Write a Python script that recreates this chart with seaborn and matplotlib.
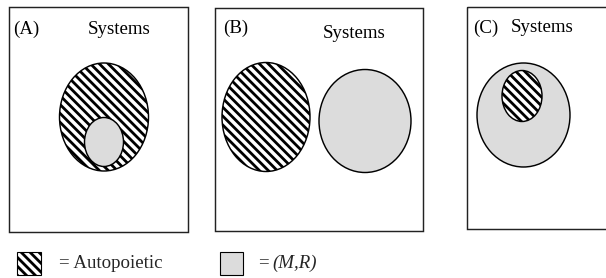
import matplotlib
matplotlib.use("Agg")
import matplotlib.pyplot as plt
import seaborn as sns
from matplotlib.patches import Ellipse, Rectangle

# ---- chart content ----
panel_labels = ["(A)", "(B)", "(C)"]
panel_title = "Systems"
legend_labels = ["= Autopoietic", "(M,R)"]
# sets drawn inside each panel: kind ('auto' = autopoietic hatched, 'mr' = (M,R) gray)
panel_sets = [["auto", "mr"], ["auto", "mr"], ["mr", "auto"]]

# ---- layout (pixel space of the 606x278 canvas) ----
boxes = [(9, 7, 188, 232), (215, 8, 423, 231), (467, 7, 640, 229)]
label_pos = [(13, 29), (223, 28), (473, 28)]
title_pos = [(88, 29), (323, 33), (511, 28)]
ellipses = [
    [(104, 117, 89, 108), (104, 142, 39, 49)],
    [(266, 117, 88, 109), (365, 121, 92, 103)],
    [(523.5, 115, 93, 104), (522, 96, 40, 51)],
]

GRAY = "#dcdcdc"
DPI = 80

sns.set_theme(style="white")
plt.rcParams["font.family"] = ["Liberation Serif", "DejaVu Serif"]
plt.rcParams["hatch.linewidth"] = 2.5
plt.rcParams["hatch.color"] = "black"

fig = plt.figure(figsize=(606 / DPI, 278 / DPI), dpi=DPI)
ax = fig.add_axes([0, 0, 1, 1])
ax.set_xlim(0, 606)
ax.set_ylim(278, 0)
ax.axis("off")

FS = 17


def style(kind):
    if kind == "auto":
        return dict(facecolor="white", edgecolor="black", hatch="\\\\\\")
    return dict(facecolor=GRAY, edgecolor="black")


for i, (x0, y0, x1, y1) in enumerate(boxes):
    ax.add_patch(Rectangle((x0, y0), x1 - x0, y1 - y0, fill=False,
                           edgecolor="#222222", linewidth=1.3, zorder=1))
    ax.text(*label_pos[i], panel_labels[i], fontsize=FS, ha="left",
            va="center", color="black")
    ax.text(*title_pos[i], panel_title, fontsize=FS, ha="left",
            va="center", color="black")
    for kind, (cx, cy, w, h) in zip(panel_sets[i], ellipses[i]):
        ax.add_patch(Ellipse((cx, cy), w, h, linewidth=1.3, zorder=2,
                             **style(kind)))

# legend
ax.add_patch(Rectangle((17, 252), 24, 23, linewidth=1.0, zorder=2,
                       **style("auto")))
ax.text(59, 263, legend_labels[0], fontsize=FS, ha="left", va="center")
ax.add_patch(Rectangle((220, 252), 23, 23, linewidth=1.0, zorder=2,
                       **style("mr")))
ax.text(258, 263, "=", fontsize=FS, ha="left", va="center")
ax.text(272, 263, legend_labels[1], fontsize=FS, ha="left", va="center",
        style="italic")

fig.savefig("out.png", dpi=DPI, facecolor="white")
